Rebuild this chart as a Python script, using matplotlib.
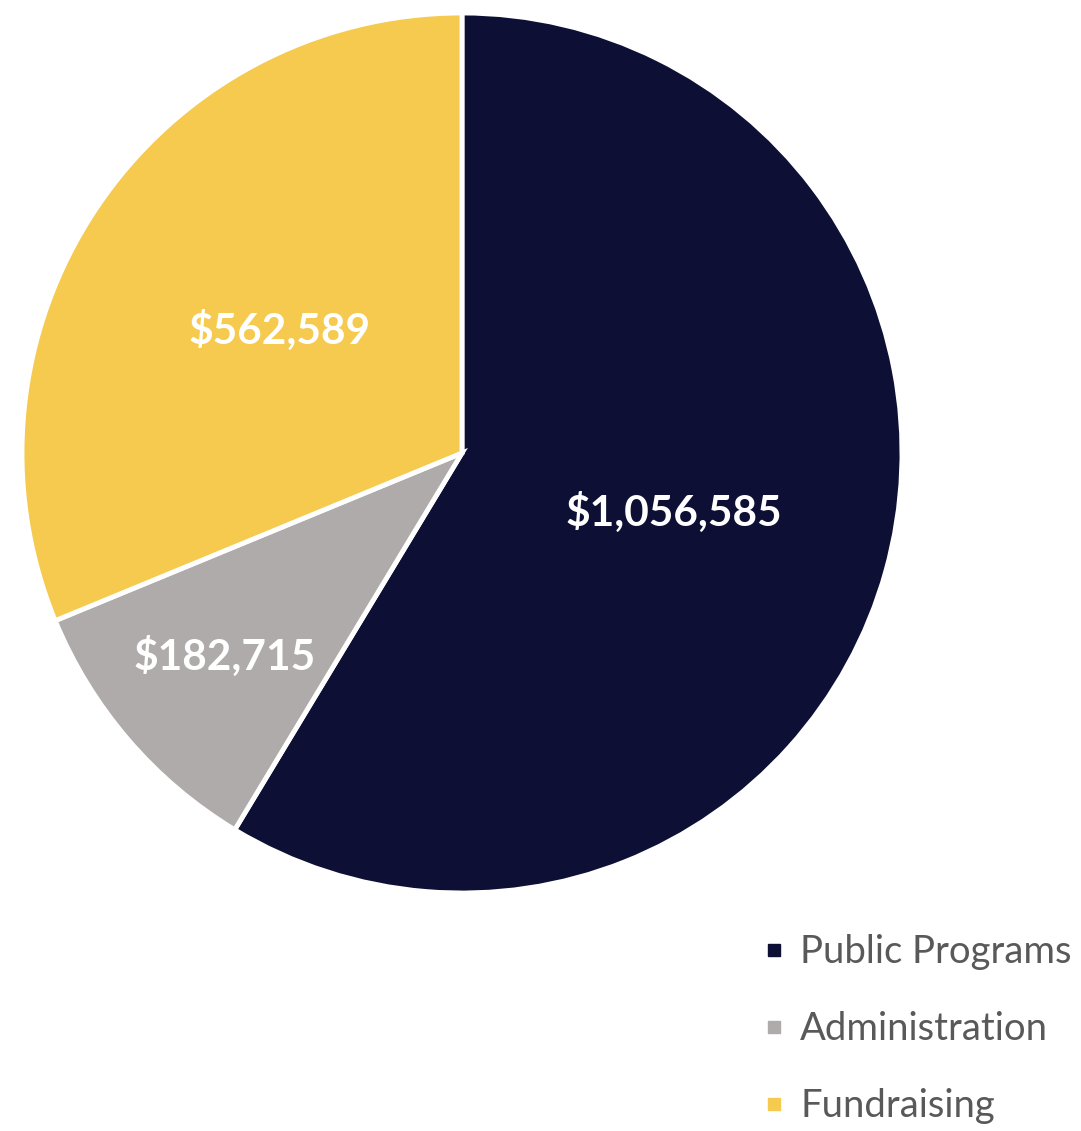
import matplotlib
matplotlib.use("Agg")
import matplotlib.pyplot as plt
import numpy as np
from matplotlib.lines import Line2D

categories = ["Public Programs", "Administration", "Fundraising"]
values = [1056585, 182715, 562589]
labels = ["$1,056,585", "$182,715", "$562,589"]
colors = ["#0D1034", "#AFABAB", "#F5CA4F"]
label_dist = [0.50, 0.71, 0.50]

plt.rcParams['font.family'] = ['Lato', 'DejaVu Sans']

fig = plt.figure(figsize=(10.81, 11.31), dpi=100)
ax = fig.add_axes([22/1081, 1 - 893/1131, 880/1081, 880/1131])
wedges, _ = ax.pie(values, colors=colors, startangle=90, counterclock=False,
                   radius=1, wedgeprops=dict(edgecolor="white", linewidth=3.5))
for w, lab, d in zip(wedges, labels, label_dist):
    mid = np.deg2rad((w.theta1 + w.theta2) / 2)
    ax.text(d * np.cos(mid), d * np.sin(mid), lab, ha="center", va="center",
            color="white", fontsize=30.5, fontweight="bold")
ax.set_xlim(-1, 1)
ax.set_ylim(-1, 1)
ax.set_aspect("equal")
ax.axis("off")

handles = [Line2D([], [], marker="s", linestyle="none", markersize=9,
                  markerfacecolor=c, markeredgecolor=c) for c in colors]
fig.legend(handles, categories, loc="center left",
           bbox_to_anchor=(764/1081, 1 - 1029/1131), frameon=False,
           fontsize=27.5, labelcolor="#595959", labelspacing=1.07,
           handlelength=0.5, handletextpad=0.45, borderpad=0, borderaxespad=0)

fig.savefig("out.png", dpi=100, facecolor="white")
